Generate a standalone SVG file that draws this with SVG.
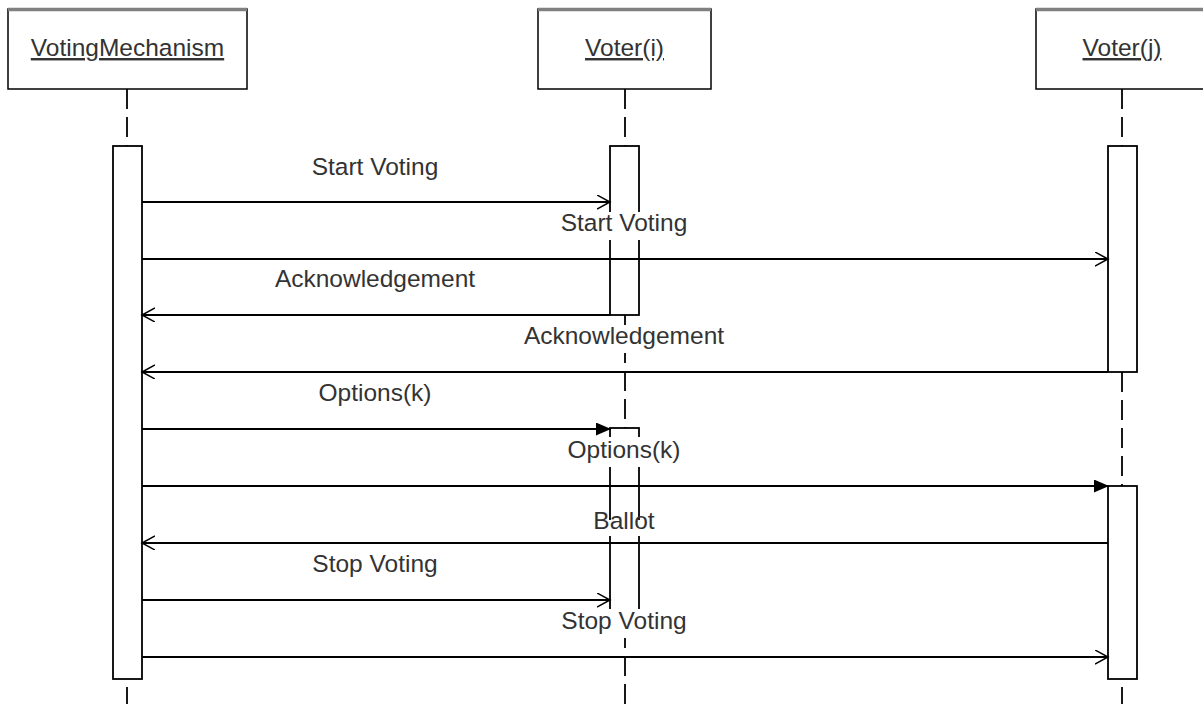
<svg xmlns="http://www.w3.org/2000/svg" width="1203" height="704" viewBox="0 0 1203 704">
<defs>
<style>
.hdr{fill:#fff;stroke:#000;stroke-width:1.5}
.band{stroke:#808080;stroke-width:3.5}
.htxt{font-family:"Liberation Sans",Arial,sans-serif;font-size:24.5px;fill:#333;text-anchor:middle;text-decoration:underline}
.life{stroke:#000;stroke-width:1.8;stroke-dasharray:20 8;fill:none}
.act{fill:#fff;stroke:#000;stroke-width:1.8}
.msg{stroke:#000;stroke-width:1.8;fill:none}
.lbl{font-family:"Liberation Sans",Arial,sans-serif;font-size:24.5px;fill:#333;text-anchor:middle}
.bg{fill:#fff}
</style>
<marker id="open" markerUnits="userSpaceOnUse" markerWidth="16" markerHeight="16" refX="13" refY="7" orient="auto">
<path d="M0,0 L13,7 L0,14" fill="none" stroke="#000" stroke-width="1.5"/>
</marker>
<marker id="filled" markerUnits="userSpaceOnUse" markerWidth="16" markerHeight="16" refX="15" refY="6.5" orient="auto">
<path d="M0,0 L15,6.5 L0,13 Z" fill="#000"/>
</marker>
</defs>
<rect width="1203" height="704" fill="#fff"/>

<g id="VotingMechanism">
<rect class="hdr" x="8" y="9" width="239" height="80"/>
<line class="band" x1="8" y1="9.5" x2="247" y2="9.5"/>
<text class="htxt" x="127.5" y="56">VotingMechanism</text>
<line class="life" x1="127" y1="89" x2="127" y2="146"/>
<line class="life" x1="127" y1="687" x2="127" y2="704"/>
<rect class="act" x="113" y="146" width="29" height="533"/>
</g>

<g id="Voter_i">
<rect class="hdr" x="538" y="9" width="173" height="80"/>
<line class="band" x1="538" y1="9.5" x2="711" y2="9.5"/>
<text class="htxt" x="624.5" y="56">Voter(i)</text>
<line class="life" x1="625" y1="89" x2="625" y2="146"/>
<line class="life" x1="625" y1="315" x2="625" y2="428"/>
<line class="life" x1="625" y1="600" x2="625" y2="704"/>
<rect class="act" x="610" y="146" width="29" height="169"/>
<rect class="act" x="610" y="428" width="29" height="190"/>
</g>

<g id="Voter_j">
<rect class="hdr" x="1036" y="9" width="172" height="80"/>
<line class="band" x1="1036" y1="9.5" x2="1208" y2="9.5"/>
<text class="htxt" x="1122" y="56">Voter(j)</text>
<line class="life" x1="1122" y1="89" x2="1122" y2="146"/>
<line class="life" x1="1122" y1="372" x2="1122" y2="486"/>
<line class="life" x1="1122" y1="687" x2="1122" y2="704"/>
<rect class="act" x="1108" y="146" width="29" height="226"/>
<rect class="act" x="1108" y="486" width="29" height="193"/>
</g>

<g id="connectors">
<line class="msg" x1="142" y1="202" x2="610" y2="202" marker-end="url(#open)"/>
<line class="msg" x1="142" y1="259" x2="1108" y2="259" marker-end="url(#open)"/>
<line class="msg" x1="610" y1="315" x2="142" y2="315" marker-end="url(#open)"/>
<line class="msg" x1="1108" y1="372" x2="142" y2="372" marker-end="url(#open)"/>
<line class="msg" x1="142" y1="429" x2="611" y2="429" marker-end="url(#filled)"/>
<line class="msg" x1="142" y1="486" x2="1109" y2="486" marker-end="url(#filled)"/>
<line class="msg" x1="1108" y1="543" x2="142" y2="543" marker-end="url(#open)"/>
<line class="msg" x1="142" y1="600" x2="610" y2="600" marker-end="url(#open)"/>
<line class="msg" x1="142" y1="657" x2="1108" y2="657" marker-end="url(#open)"/>
</g>

<g id="labels">
<rect class="bg" x="311" y="155" width="130" height="28"/>
<text class="lbl" x="375" y="175">Start Voting</text>
<rect class="bg" x="558" y="212" width="132" height="28"/>
<text class="lbl" x="624" y="231">Start Voting</text>
<rect class="bg" x="270" y="268" width="210" height="28"/>
<text class="lbl" x="375" y="287">Acknowledgement</text>
<rect class="bg" x="518" y="325" width="212" height="28"/>
<text class="lbl" x="624" y="344">Acknowledgement</text>
<rect class="bg" x="316" y="382" width="118" height="28"/>
<text class="lbl" x="375" y="401">Options(k)</text>
<rect class="bg" x="564" y="437" width="122" height="30"/>
<text class="lbl" x="624" y="458">Options(k)</text>
<rect class="bg" x="592" y="520" width="66" height="16"/>
<text class="lbl" x="624" y="529">Ballot</text>
<rect class="bg" x="311" y="553" width="130" height="28"/>
<text class="lbl" x="375" y="572">Stop Voting</text>
<rect class="bg" x="556" y="609" width="136" height="29"/>
<text class="lbl" x="624" y="629">Stop Voting</text>
</g>
</svg>
